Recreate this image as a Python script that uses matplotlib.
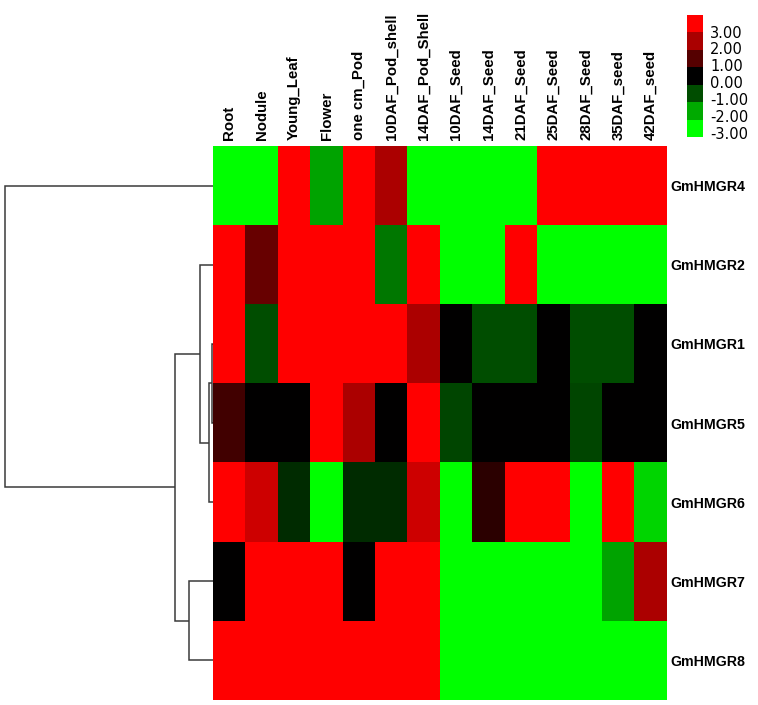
import matplotlib
matplotlib.use("Agg")
import matplotlib.pyplot as plt
import numpy as np
from matplotlib.colors import LinearSegmentedColormap, ListedColormap

# ---------------- data ----------------
tissues = ["Root", "Nodule", "Young_Leaf", "Flower", "one cm_Pod", "10DAF_Pod_shell",
           "14DAF_Pod_Shell", "10DAF_Seed", "14DAF_Seed", "21DAF_Seed", "25DAF_Seed",
           "28DAF_Seed", "35DAF_seed", "42DAF_seed"]
genes = ["GmHMGR4", "GmHMGR2", "GmHMGR1", "GmHMGR5", "GmHMGR6", "GmHMGR7", "GmHMGR8"]

GmHMGR4 = [-3, -3, 3, -1.9, 3, 2.0, -3, -3, -3, -3, 3, 3, 3, 3]
GmHMGR2 = [3, 1.2, 3, 3, 3, -1.4, 3, -3, -3, 3, -3, -3, -3, -3]
GmHMGR1 = [3, -0.9, 3, 3, 3, 3, 2.0, 0, -0.9, -0.9, 0, -0.9, -0.9, 0]
GmHMGR5 = [0.75, 0, 0, 3, 2.0, 0, 3, -0.8, 0, 0, 0, -0.8, 0, 0]
GmHMGR6 = [3, 2.4, -0.5, -3, -0.5, -0.5, 2.4, -3, 0.5, 3, 3, -3, 3, -2.5]
GmHMGR7 = [0, 3, 3, 3, 0, 3, 3, -3, -3, -3, -3, -3, -1.9, 2.0]
GmHMGR8 = [3, 3, 3, 3, 3, 3, 3, -3, -3, -3, -3, -3, -3, -3]

# dendrogram linkage (scipy style): child a, child b, merge distance
# leaves 0..6 follow `genes` order
linkage = [
    [2, 3, 1.0],
    [7, 4, 4.0],
    [1, 8, 13.0],
    [5, 6, 24.0],
    [9, 10, 38.0],
    [0, 11, 208.0],
]

legend_values = [3.00, 2.00, 1.00, 0.00, -1.00, -2.00, -3.00]
legend_colors = ["#FF0000", "#AA0000", "#550000", "#000000", "#004D00", "#00AA00", "#00FF00"]

# ---------------- figure ----------------
W, H = 758, 705
fig = plt.figure(figsize=(W / 100, H / 100), dpi=100)
fig.patch.set_facecolor("white")

def px_axes(x0, y0, x1, y1):
    return fig.add_axes([x0 / W, (H - y1) / H, (x1 - x0) / W, (y1 - y0) / H])

hx0, hy0, hx1, hy1 = 213.3, 146, 666.7, 700

# heatmap
ax = px_axes(hx0, hy0, hx1, hy1)
data = np.array([GmHMGR4, GmHMGR2, GmHMGR1, GmHMGR5, GmHMGR6, GmHMGR7, GmHMGR8])
cmap = LinearSegmentedColormap.from_list("rg", [(0, "#00FF00"), (0.5, "#000000"), (1, "#FF0000")])
ax.imshow(data, cmap=cmap, vmin=-3, vmax=3, aspect="auto", interpolation="nearest")
for s in ax.spines.values():
    s.set_visible(False)
ax.xaxis.tick_top()
ax.set_xticks(range(len(tissues)))
ax.set_xticklabels(tissues, rotation=90, fontsize=10.8, fontweight="bold",
                   family=["Liberation Sans", "DejaVu Sans"])
ax.yaxis.tick_right()
ax.set_yticks(range(len(genes)))
ax.set_yticklabels(genes, fontsize=10.2, fontweight="bold",
                   family=["Liberation Sans", "DejaVu Sans"])
ax.tick_params(axis="x", length=0, pad=4.5)
ax.tick_params(axis="y", length=0, pad=2.5)

# dendrogram
dax = px_axes(0, hy0, hx0, hy1)
dax.set_xlim(hx0, 0)
dax.set_ylim(len(genes) - 0.5, -0.5)
dax.axis("off")
n = len(genes)
pos = {i: (0.0, float(i)) for i in range(n)}
for k, (a, b, h) in enumerate(linkage):
    a, b = int(a), int(b)
    ha_, ya = pos[a]
    hb_, yb = pos[b]
    dax.plot([ha_, h, h, hb_], [ya, ya, yb, yb], color="#3a3a3a", lw=1.1,
             solid_joinstyle="miter", solid_capstyle="butt")
    pos[n + k] = (h, (ya + yb) / 2)

# legend colour key
lax = px_axes(687, 15, 703, 137)
lax.imshow(np.arange(len(legend_values)).reshape(-1, 1), cmap=ListedColormap(legend_colors),
           aspect="auto", interpolation="nearest")
lax.set_xticks([])
lax.yaxis.tick_right()
lax.set_yticks([i + 0.95 - 0.5 - 0.03 * i for i in range(len(legend_values))])
lax.set_yticklabels([f"{v:.2f}" for v in legend_values], fontsize=10.5,
                    family=["DejaVu Sans"])
lax.tick_params(axis="y", length=0, pad=5)
for s in lax.spines.values():
    s.set_visible(False)

fig.savefig("out.png", dpi=100, facecolor="white")
